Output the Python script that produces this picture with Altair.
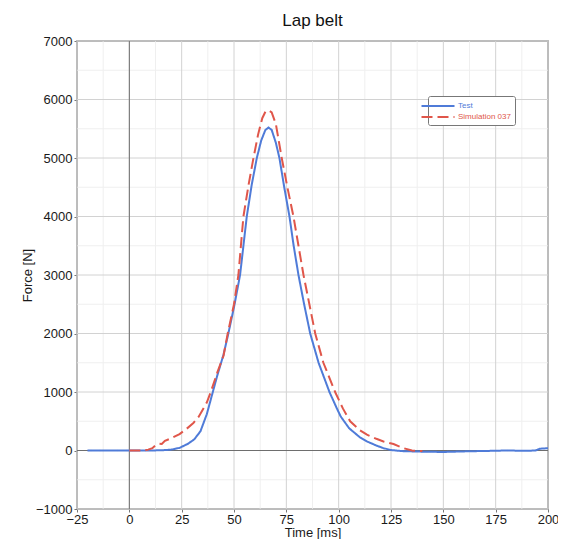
import altair as alt
import pandas as pd

# ---- data ----
series_names = ["Test", "Simulation 037"]
series_colors = ["#4f7bd8", "#e0564a"]

test_t = [-20, 0, 10, 16, 20, 24, 28, 31, 34, 37, 39.5, 42, 45, 47.3, 50, 52.9, 56.1, 58.5,
          60.9, 63, 65, 66.5, 68, 70, 71.7, 74, 76.5, 78.5, 80.8, 83.5, 86.4, 90.4, 95.6,
          99, 101, 105, 110, 113.5, 118, 121.4, 125, 130, 140, 150, 160, 170, 180, 190,
          194, 196, 200]
test_f = [0, 0, 0, 5, 15, 45, 115, 190, 330, 620, 950, 1280, 1640, 2000, 2450, 3000, 4000, 4550,
          5000, 5300, 5480, 5520, 5480, 5260, 5000, 4500, 4000, 3500, 3000, 2500, 2000, 1500, 1000,
          730, 580, 380, 230, 155, 85, 40, 8, -10, -20, -25, -15, -8, 0, -5,
          0, 30, 40]

sim_t = [0, 7, 9, 11, 12.5, 14, 15.5, 17, 20, 24, 27, 30.6, 33, 35.4, 37, 38.9, 42, 45, 47,
         50, 52.1, 54.5, 57, 59.3, 61.5, 63.5, 65, 66.5, 68, 70, 72.8, 75.5, 78.4, 80.8, 83.2,
         86, 88.8, 92.7, 98.3, 102, 105.5, 110, 113.5, 118, 121.4, 126.2, 131, 135, 140]
sim_f = [0, 0, 15, 40, 90, 115, 110, 165, 210, 280, 360, 470, 570, 720, 820, 1000, 1330, 1620, 2000,
         2500, 3000, 4000, 4550, 5000, 5400, 5680, 5790, 5815, 5780, 5580, 5000, 4500, 4000, 3500, 3000,
         2500, 2000, 1500, 1000, 720, 500, 350, 270, 200, 155, 110, 40, 0, -10]

x_ticks = list(range(-25, 201, 25))
y_ticks = list(range(-1000, 7001, 1000))
x_minor = [v + 12.5 for v in range(-25, 200, 25)]
y_minor = [v + 500 for v in range(-1000, 7000, 1000)]

# ---- tables ----
rows = []
for i, (t, f) in enumerate(zip(test_t, test_f)):
    rows.append({"t": t, "f": f, "series": series_names[0], "i": i})
for i, (t, f) in enumerate(zip(sim_t, sim_f)):
    rows.append({"t": t, "f": f, "series": series_names[1], "i": i})
df = pd.DataFrame(rows)

xscale = alt.Scale(domain=[-25, 200], nice=False, zero=False)
yscale = alt.Scale(domain=[-1000, 7000], nice=False, zero=False)

common_axis = dict(grid=False, domain=False, tickSize=3, tickColor="#777", format="d",
                   labelFontSize=13, labelColor="#1a1a1a", labelFont="Liberation Sans",
                   labelOverlap=False, labelFlush=False,
                   titleFontSize=13, titleFontWeight="normal", titleColor="#1a1a1a",
                   titleFont="Liberation Sans")
x_axis = alt.Axis(values=x_ticks, titlePadding=0, labelPadding=1, **common_axis)
y_axis = alt.Axis(values=y_ticks, titlePadding=1, labelPadding=2, **common_axis)
X_TITLE = "Time [ms]"
Y_TITLE = "Force [N]"


def xenc():
    return alt.X("t:Q", scale=xscale, title=X_TITLE, axis=x_axis)


def yenc():
    return alt.Y("f:Q", scale=yscale, title=Y_TITLE, axis=y_axis)


minor_x = alt.Chart(pd.DataFrame({"t": x_minor})).mark_rule(color="#efefef", strokeWidth=1).encode(x=xenc())
minor_y = alt.Chart(pd.DataFrame({"f": y_minor})).mark_rule(color="#efefef", strokeWidth=1).encode(y=yenc())
major_x = alt.Chart(pd.DataFrame({"t": x_ticks})).mark_rule(color="#d2d2d2", strokeWidth=1).encode(x=xenc())
major_y = alt.Chart(pd.DataFrame({"f": y_ticks})).mark_rule(color="#d2d2d2", strokeWidth=1).encode(y=yenc())
zero_x = alt.Chart(pd.DataFrame({"t": [0]})).mark_rule(color="#6e6e6e", strokeWidth=1).encode(x=xenc())
zero_y = alt.Chart(pd.DataFrame({"f": [0]})).mark_rule(color="#6e6e6e", strokeWidth=1).encode(y=yenc())

label_color_expr = f"datum.value == '{series_names[0]}' ? '{series_colors[0]}' : '{series_colors[1]}'"

legend = alt.Legend(
    title=None, orient="none", legendX=351, legendY=55,
    fillColor="white", strokeColor="#777777", padding=4, cornerRadius=2,
    labelFontSize=8, labelFont="Liberation Sans", labelLimit=200,
    symbolType="M-3.3,0H3.3", symbolSize=100, symbolStrokeWidth=2,
    labelOffset=14, rowPadding=1,
    labelColor={"expr": label_color_expr},
)

lines = alt.Chart(df).mark_line(strokeWidth=2).encode(
    x=xenc(),
    y=yenc(),
    color=alt.Color("series:N", scale=alt.Scale(domain=series_names, range=series_colors), legend=legend),
    strokeDash=alt.StrokeDash("series:N", scale=alt.Scale(domain=series_names, range=[[1, 0], [11, 5]]),
                              legend=legend),
    order="i:Q",
)

chart = alt.layer(minor_x, minor_y, major_x, major_y, zero_x, zero_y, lines).properties(
    width=471, height=468,
    title=alt.Title("Lap belt", fontSize=17, fontWeight="normal", font="Liberation Sans",
                    color="#111", anchor="middle", offset=5),
    autosize=alt.AutoSizeParams(type="none"),
    padding={"left": 69, "top": 33, "right": 10, "bottom": 30},
).configure_view(stroke="#8a8a8a", strokeWidth=1.5)

chart.save("out.html", embed_options={"renderer": "svg", "actions": False})
